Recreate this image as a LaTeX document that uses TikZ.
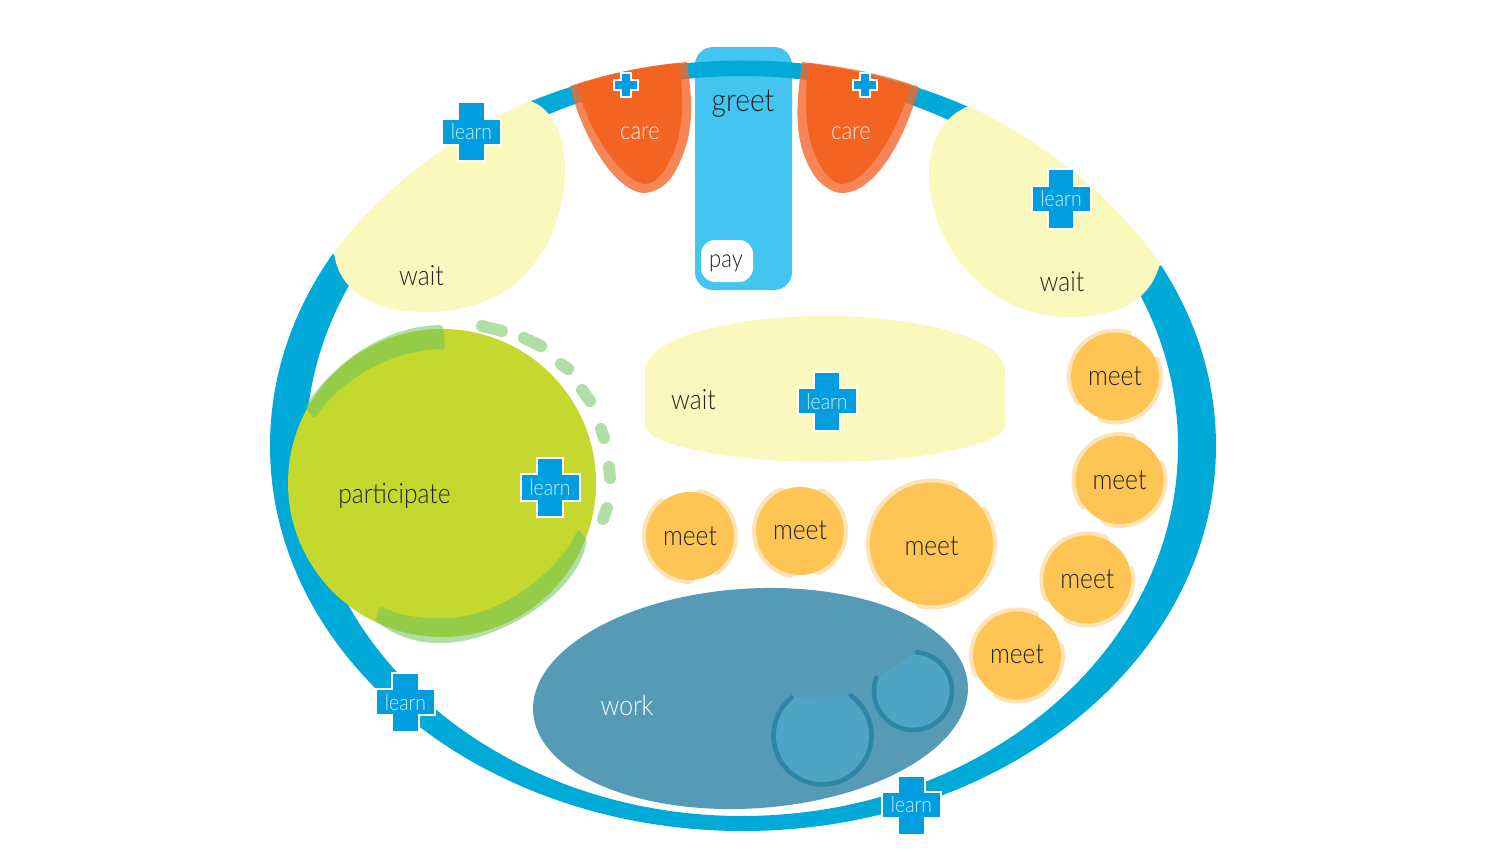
\documentclass[tikz,border=0pt]{standalone}
\usepackage{fontspec}
\setmainfont[FakeStretch=0.88]{Lato Light}
\definecolor{ringc}{RGB}{0,170,216}
\definecolor{greetc}{RGB}{68,197,240}
\definecolor{waitc}{RGB}{251,248,189}
\definecolor{carec}{RGB}{243,99,34}
\definecolor{careh}{RGB}{244,104,46}
\definecolor{partc}{RGB}{196,216,46}
\definecolor{bandc}{RGB}{112,195,93}
\definecolor{dashc}{RGB}{176,222,166}
\definecolor{workc}{RGB}{85,155,182}
\definecolor{seatc}{RGB}{79,163,196}
\definecolor{seate}{RGB}{46,134,165}
\definecolor{meetc}{RGB}{254,196,84}
\definecolor{meeth}{RGB}{253,228,182}
\definecolor{crossc}{RGB}{0,157,223}
\definecolor{learnt}{RGB}{205,238,250}
\definecolor{inkc}{RGB}{35,35,35}
\tikzset{
  lbl/.style={inner sep=0pt,text=inkc,font=\fontsize{14}{16}\selectfont},
  lrn/.style={inner sep=0pt,text=learnt,font=\fontsize{11}{14}\selectfont},
  smalllbl/.style={lbl,font=\fontsize{12.5}{14}\selectfont},
  halo/.style={draw=meeth,line width=4pt,line cap=round,fill=none},
  band/.style={fill=bandc,fill opacity=.55,rounded corners=1.5pt},
  dashy/.style={draw=dashc,line width=6pt,line cap=round},
  crossy/.style={fill=crossc,draw=white,line width=1pt,miter limit=10},
  seat/.style={draw=seate,line width=2.3pt,line cap=round}
}
\newcommand{\crosspath}[3]{%
  \path[crossy,shift={(#1)}] (-#3,-#2) -- (#3,-#2) -- (#3,-#3) -- (#2,-#3) -- (#2,#3) -- (#3,#3) -- (#3,#2) -- (-#3,#2) -- (-#3,#3) -- (-#2,#3) -- (-#2,-#3) -- (-#3,-#3) -- cycle;}
\begin{document}
\begin{tikzpicture}[x=0.5pt,y=-0.5pt]
\useasboundingbox (0,0) rectangle (1500,856);
\fill[white] (0,0) rectangle (1500,856);
% greet
\fill[greetc,rounded corners=9pt] (695,47) rectangle (792,290);
% ring
\fill[ringc,even odd rule] (743,445.75) ellipse [x radius=473,y radius=385.25] (742,446) ellipse [x radius=436,y radius=370];
% ring gaps behind the upper wait zones
\fill[white] (530,108) -- (530,30) -- (240,30) -- (240,200) -- (340,258) -- (392,198) -- (448,152) -- cycle;
\fill[white] (969,112) -- (969,30) -- (1300,30) -- (1300,200) -- (1155,268) -- (1122,224) -- (1068,172) -- cycle;
% wait zones
\fill[waitc] (530,101) .. controls (552,108) and (565,135) .. (565,170) .. controls (565,215) and (545,262) .. (510,288) .. controls (485,305) and (455,312) .. (425,312) .. controls (385,312) and (340,298) .. (334,253) .. controls (365,210) and (430,145) .. (530,101) -- cycle;
\fill[waitc] (969,106) .. controls (945,115) and (929,140) .. (929,173) .. controls (929,225) and (960,275) .. (1000,298) .. controls (1020,310) and (1045,317) .. (1070,317) .. controls (1110,317) and (1150,305) .. (1160,263) .. controls (1130,220) and (1070,155) .. (969,106) -- cycle;
\fill[waitc] (645,372) .. controls (645,335) and (740,316) .. (825,316) .. controls (910,316) and (1005,335) .. (1005,372) -- (1005,425) .. controls (1005,445) and (920,462) .. (825,462) .. controls (730,462) and (645,445) .. (645,425) -- cycle;
% care zones
\fill[careh,fill opacity=.8] (687,62) .. controls (693,105) and (695,135) .. (675,172) .. controls (668,185) and (655,193) .. (643,193) .. controls (612,190) and (580,130) .. (570,86) .. controls (610,73) and (650,65) .. (687,62) -- cycle;
\fill[carec] (680,63) .. controls (683,100) and (685,130) .. (670,160) .. controls (665,172) and (655,184) .. (645,184) .. controls (625,184) and (585,130) .. (578,84) .. controls (612,73) and (648,66) .. (680,63) -- cycle;
\fill[careh,fill opacity=.8] (802,62) .. controls (796,105) and (793,140) .. (812,172) .. controls (820,185) and (832,193) .. (842,193) .. controls (875,193) and (905,140) .. (919,87) .. controls (880,73) and (840,66) .. (802,62) -- cycle;
\fill[carec] (808,63) .. controls (805,100) and (803,135) .. (820,165) .. controls (827,177) and (835,184) .. (842,184) .. controls (865,184) and (897,135) .. (910,87) .. controls (878,75) and (840,68) .. (808,63) -- cycle;
% pay
\fill[white,rounded corners=7pt] (701,240) rectangle (753,282);
% participate
\fill[partc] (442,483) circle [radius=154];
\fill[band] (305,407) .. controls (330,368) and (380,326) .. (443,325) -- (445,349) .. controls (395,350) and (345,375) .. (314,419) -- cycle;
\fill[band] (375,620) .. controls (395,637) and (420,643) .. (440,643) .. controls (490,643) and (575,600) .. (587,540) -- (578,529) .. controls (565,560) and (510,618) .. (440,618) .. controls (420,618) and (400,616) .. (380,606) -- cycle;
\draw[dashy] (482,326) -- (502,331);
\draw[dashy] (524,338) -- (541,346);
\draw[dashy] (561,364) -- (568,369);
\draw[dashy] (582,390) -- (590,401);
\draw[dashy] (601,429) -- (604,438);
\draw[dashy] (609,467) -- (610,478);
\draw[dashy] (607,508) -- (603,519);
% work
\fill[workc,rotate around={3.6:(750.5,698.5)}] (750.5,698.5) ellipse [x radius=217.8,y radius=109.9];
\fill[seatc] (822.5,735.5) ++(-55:49) arc [start angle=-55,end angle=231,radius=49] -- cycle;
\draw[seat] (822.5,735.5) ++(-55:49) arc [start angle=-55,end angle=231,radius=49];
\fill[seatc] (913,691) ++(-84:39) arc [start angle=-84,end angle=200,radius=39] -- cycle;
\draw[seat] (913,691) ++(-84:39) arc [start angle=-84,end angle=200,radius=39];
% meet tables: x, y, r, arc 1 start/end, arc 2 start/end, label y, name
\foreach \mx/\my/\mr/\aa/\ab/\ac/\ad/\mt/\mn in {
  1115/376.5/44/145/287/-21/108/376/ma,
  1119.5/480/44/145/287/-21/108/480/mb,
  1087.3/579.5/44/155/294/-12/117/579/mc,
  1017/655.5/44/155/294/-12/117/654/md,
  931.5/544/61.5/139/292/-33/101/546/me,
  800/531/44/103/244/-62/67/530/mf,
  690/536/44/89/230/-77/53/536/mg}{
  \draw[halo] (\mx,\my) ++(\aa:\mr) arc [start angle=\aa,end angle=\ab,radius=\mr];
  \draw[halo] (\mx,\my) ++(\ac:\mr) arc [start angle=\ac,end angle=\ad,radius=\mr];
  \fill[meetc] (\mx,\my) circle [radius=\mr];
  \node[lbl] (\mn) at (\mx,\mt) {meet};
}
% crosses
\crosspath{625.5,85}{12}{5}
\crosspath{864.5,85.5}{12}{5}
\crosspath{471.5,132}{29.5}{13.2}
\crosspath{1061,199}{29.5}{13.2}
\crosspath{827,401}{29.5}{13.2}
\crosspath{550,487.5}{29.5}{13.2}
\crosspath{405.5,702}{29.5}{13.2}
\crosspath{911.5,805}{29.5}{13.2}
\node[lrn] (la) at (471.5,132) {learn};
\node[lrn] (lb) at (1061,199) {learn};
\node[lrn] (lc) at (827,401.5) {learn};
\node[lrn] (ld) at (550,487.5) {learn};
\node[lrn] (le) at (405.5,702.5) {learn};
\node[lrn] (lf) at (911.5,805) {learn};
% labels
\node[lbl,font=\fontsize{16}{18}\selectfont] (greet) at (743,103.5) {greet};
\node[smalllbl] (pay) at (726,263) {pay};
\node[smalllbl,text=white!85!carec] (care1) at (640,133) {care};
\node[smalllbl,text=white!85!carec] (care2) at (851,133) {care};
\node[lbl] (w1) at (421.5,276) {wait};
\node[lbl] (w2) at (1062,282) {wait};
\node[lbl] (w3) at (693.5,400) {wait};
\node[lbl] (part) at (394.5,496) {participate};
\node[lbl,text=white] (work) at (627,705) {work};
\end{tikzpicture}
\end{document}
